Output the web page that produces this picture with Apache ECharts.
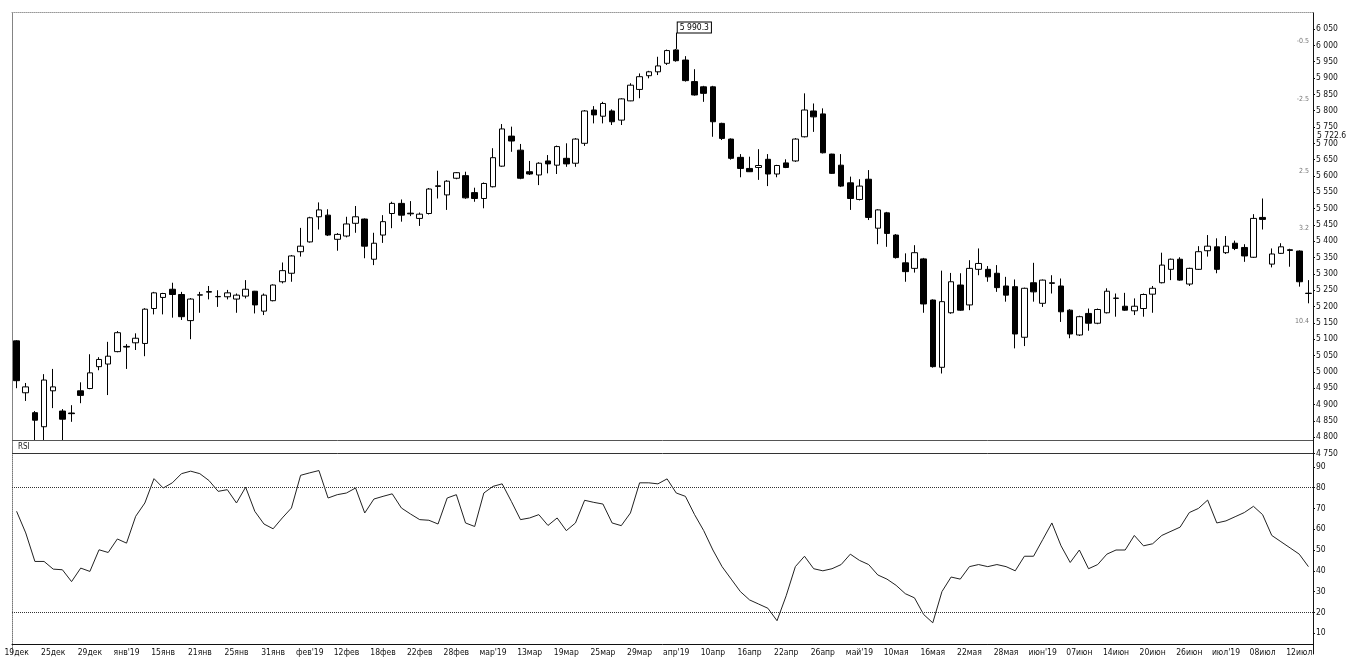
<!DOCTYPE html>
<html><head><meta charset="utf-8">
<script src="https://cdn.jsdelivr.net/npm/echarts@6/dist/echarts.min.js"></script>
<style>html,body{margin:0;padding:0;background:#fff}#c{width:1349px;height:667px}</style>
</head><body><div id="c"></div>
<script>
// x-axis tick labels, one every 4 bars
const tickLabels = ["19дек","25дек","29дек","янв'19","15янв","21янв","25янв","31янв","фев'19","12фев","18фев","22фев",
  "28фев","мар'19","13мар","19мар","25мар","29мар","апр'19","10апр","16апр","22апр","26апр","май'19",
  "10мая","16мая","22мая","28мая","июн'19","07июн","14июн","20июн","26июн","июл'19","08июл","12июл"];
const labelEvery = 4;

const opens = [5095,4936,4875,4832,4942,4880,4874,4942,4949,5016,5024,5062,5078,5089,5087,5194,5228,5253,5237,5157,
  5235,5244,5230,5230,5223,5232,5247,5186,5218,5276,5302,5368,5398,5475,5480,5406,5416,5455,5468,5345,
  5419,5485,5516,5486,5470,5485,5568,5542,5593,5601,5549,5531,5567,5630,5722,5679,5613,5603,5646,5633,
  5654,5639,5700,5802,5783,5799,5771,5830,5865,5907,5919,5945,5986,5955,5889,5873,5873,5761,5713,5657,
  5623,5626,5651,5606,5640,5646,5720,5799,5790,5667,5633,5579,5528,5590,5440,5487,5419,5334,5317,5346,
  5220,5014,5181,5266,5205,5314,5314,5302,5263,5261,5106,5273,5210,5271,5263,5189,5113,5179,5149,5181,
  5225,5201,5187,5194,5238,5273,5314,5345,5269,5314,5371,5383,5365,5394,5381,5351,5473,5330,5363,5374,
  5370,5241];
const closes = [4973,4954,4852,4975,4954,4855,4872,4928,4997,5038,5048,5120,5076,5103,5192,5242,5240,5237,5169,5223,
  5236,5246,5231,5242,5235,5253,5205,5235,5266,5310,5355,5385,5472,5496,5419,5421,5453,5475,5385,5394,
  5460,5516,5480,5484,5483,5560,5570,5584,5610,5533,5531,5577,5656,5744,5707,5593,5606,5639,5637,5690,
  5637,5713,5799,5787,5822,5766,5836,5878,5904,5919,5937,5984,5953,5892,5848,5853,5766,5715,5654,5623,
  5613,5632,5606,5632,5626,5713,5802,5781,5671,5608,5569,5531,5569,5473,5496,5424,5350,5307,5365,5208,
  5016,5215,5276,5189,5317,5332,5291,5258,5235,5116,5256,5245,5281,5273,5184,5116,5169,5149,5191,5247,
  5226,5189,5201,5237,5256,5327,5345,5281,5317,5368,5385,5314,5385,5378,5355,5470,5467,5361,5383,5372,
  5276,5240];
const lows = [4950,4911,4790,4790,4889,4790,4847,4904,4947,5005,4929,5060,5009,5067,5048,5176,5176,5166,5159,5100,
  5181,5222,5199,5222,5181,5225,5179,5174,5216,5271,5276,5353,5396,5436,5416,5371,5412,5426,5348,5327,
  5395,5440,5460,5477,5447,5482,5531,5496,5590,5530,5521,5501,5565,5628,5674,5590,5603,5572,5608,5606,
  5628,5628,5692,5761,5761,5756,5756,5829,5838,5899,5909,5940,5950,5889,5846,5827,5720,5710,5650,5596,
  5612,5588,5569,5596,5624,5643,5718,5735,5669,5606,5566,5496,5525,5465,5391,5383,5347,5276,5304,5181,
  5013,4995,5178,5187,5189,5296,5276,5245,5215,5072,5079,5215,5199,5240,5153,5103,5110,5126,5146,5179,
  5169,5187,5174,5169,5181,5271,5281,5279,5263,5312,5353,5302,5361,5373,5337,5349,5436,5320,5361,5322,
  5261,5210];
const highs = [5097,4966,4880,4993,5009,4886,4898,4968,5054,5045,5092,5125,5085,5118,5195,5245,5242,5273,5245,5226,
  5245,5263,5250,5251,5240,5281,5248,5240,5268,5335,5358,5441,5475,5519,5498,5425,5475,5508,5470,5426,
  5480,5521,5528,5523,5488,5563,5616,5587,5612,5613,5564,5580,5685,5759,5751,5698,5646,5642,5664,5693,
  5700,5716,5802,5814,5827,5804,5838,5884,5914,5922,5965,5987,5989,5967,5927,5876,5876,5763,5715,5667,
  5659,5682,5667,5634,5651,5716,5853,5822,5807,5668,5667,5598,5590,5618,5498,5490,5422,5363,5388,5349,
  5222,5310,5303,5302,5342,5378,5324,5327,5291,5283,5258,5334,5283,5296,5286,5192,5172,5194,5194,5256,
  5240,5242,5225,5240,5263,5365,5347,5351,5319,5385,5419,5409,5416,5402,5391,5483,5531,5378,5394,5377,
  5372,5281];
const rsi = [68.6,58.2,44.5,44.5,40.8,40.5,34.8,41.3,39.7,50.1,48.8,55.3,53.3,66.2,72.6,84.3,79.8,82.3,86.7,87.9,
  86.7,83.4,78.2,79.0,72.6,80.2,68.6,62.5,60.2,65.4,70.2,85.9,87.1,88.2,75.0,76.6,77.4,79.8,67.8,74.5,
  75.8,77.0,70.2,67.3,64.6,64.3,62.5,75.0,76.6,63.0,61.3,77.4,80.6,81.8,73.4,64.6,65.4,67.0,61.8,65.4,
  59.3,63.0,73.9,72.9,72.1,63.0,61.7,67.8,82.3,82.3,81.8,84.2,77.4,75.8,67.0,59.3,50,42,36,30,
  26,24,22,16,28,42,47,41,40,41,43,48,45,43,38,36,33,29,27,19,
  15,30,37,36,42,43,42,43,42,40,47,47,55,63,52,44,50,41,43,48,
  50,50,57,52,53,57,59,61,68,70,74,63,64,66,68,71,67,57,54,51,
  48,42];
const rsiLevels = [80, 20];
const priceMin = 4750, priceMax = 6100, priceStep = 50;
const paneBottomValue = 4790;
const peakText = '5 990.3';
const axisMarker = { value: 5722.6, text: '5 722.6' };
const sideNotes = [ { value: 6010, text: '-0.5' }, { value: 5833, text: '-2.5' }, { value: 5612, text: '2.5' },
  { value: 5440, text: '3.2' }, { value: 5153, text: '10.4' } ];

const FONT = '"Liberation Sans Narrow","DejaVu Sans Condensed","Arial Narrow","Liberation Sans",sans-serif';
const categories = opens.map((_, i) => String(i));
const ohlc = opens.map((o, i) => [o, closes[i], lows[i], highs[i]]);
let peakIdx = 0;
highs.forEach((h, i) => { if (h > highs[peakIdx]) peakIdx = i; });
const fmt = v => String(Math.round(v)).replace(/\B(?=(\d{3})+(?!\d))/g, ' ');

const chart = echarts.init(document.getElementById('c'), null, { renderer: 'canvas' });
chart.setOption({
  animation: false,
  backgroundColor: '#fff',
  textStyle: { fontFamily: FONT },
  grid: [
    { left: 12, right: 36, top: 12.7, height: 440.8 },
    { left: 12, right: 36, top: 446, height: 208 }
  ],
  xAxis: [
    { type: 'category', gridIndex: 0, data: categories, boundaryGap: true, position: 'top',
      axisLine: { show: true, lineStyle: { color: '#999', width: 1, type: 'dotted' } },
      axisTick: { show: false }, axisLabel: { show: false }, splitLine: { show: false } },
    { type: 'category', gridIndex: 1, data: categories, boundaryGap: true, position: 'bottom', offset: -10,
      axisLine: { lineStyle: { color: '#111', width: 1 } }, axisTick: { show: false }, splitLine: { show: false },
      axisLabel: { interval: labelEvery - 1, color: '#111', fontSize: 8.5, margin: 4, fontFamily: FONT,
        formatter: (v, idx) => tickLabels[Math.round(idx / labelEvery)] || '' } }
  ],
  yAxis: [
    { type: 'value', gridIndex: 0, position: 'right', min: priceMin, max: priceMax, interval: priceStep,
      axisLine: { show: true, lineStyle: { color: '#111', width: 1 } },
      axisTick: { show: true, length: 2, lineStyle: { color: '#111' } }, splitLine: { show: false },
      axisLabel: { color: '#111', fontSize: 8.5, margin: 3, fontFamily: FONT, showMaxLabel: false, formatter: fmt } },
    { type: 'value', gridIndex: 1, position: 'right', min: 0, max: 100, interval: 10,
      axisLine: { show: true, lineStyle: { color: '#111', width: 1 } },
      axisTick: { show: true, length: 2, lineStyle: { color: '#111' } }, splitLine: { show: false },
      axisLabel: { color: '#111', fontSize: 8.5, margin: 3, fontFamily: FONT, showMinLabel: false, showMaxLabel: false } },
    { type: 'value', gridIndex: 1, position: 'left', min: 0, max: 100,
      axisLine: { show: true, lineStyle: { color: '#777', width: 1, type: 'dotted' } },
      axisTick: { show: false }, axisLabel: { show: false }, splitLine: { show: false } },
    { type: 'value', gridIndex: 0, position: 'left', min: priceMin, max: priceMax,
      axisLine: { show: true, lineStyle: { color: '#777', width: 1, type: 'dotted' } },
      axisTick: { show: false }, axisLabel: { show: false }, splitLine: { show: false } }
  ],
  series: [
    { type: 'candlestick', xAxisIndex: 0, yAxisIndex: 0, data: ohlc, barWidth: 6,
      itemStyle: { color: '#fff', color0: '#000', borderColor: '#000', borderColor0: '#000', borderWidth: 1 },
      markLine: { silent: true, symbol: 'none', animation: false,
        data: [
          { yAxis: paneBottomValue, lineStyle: { color: '#555', width: 1, type: 'solid' }, label: { show: false } },
          { yAxis: priceMin, lineStyle: { color: '#333', width: 1, type: 'solid' }, label: { show: false } },
          [ { coord: [peakIdx, highs[peakIdx]] }, { coord: [peakIdx, highs[peakIdx] + 50] } ]
        ],
        lineStyle: { color: '#000', width: 1, type: 'solid' }, label: { show: false } },
      markPoint: { silent: true, animation: false,
        data: [ { coord: [peakIdx, highs[peakIdx] + 50], symbol: 'rect', symbolSize: 1,
          itemStyle: { color: 'rgba(0,0,0,0)' },
          label: { show: true, position: 'right', distance: 1, offset: [0, -5], formatter: peakText,
            color: '#000', fontSize: 8.5, fontFamily: FONT, backgroundColor: '#fff', borderColor: '#000', borderWidth: 1,
            padding: [1, 2, 0, 2] } } ] }
    },
    { type: 'line', xAxisIndex: 1, yAxisIndex: 1, data: rsi, symbol: 'none', showSymbol: false,
      lineStyle: { color: '#222', width: 1 },
      markLine: { silent: true, symbol: 'none', animation: false,
        data: rsiLevels.map(v => ({ yAxis: v })),
        lineStyle: { color: '#333', width: 1, type: 'dotted' }, label: { show: false } } }
  ]
});

// Text annotations placed through the axis scale
const gx = 1313;
const graphics = [];
graphics.push({ type: 'text', left: 18, top: 443, style: { text: 'RSI', fill: '#222', font: '8px ' + FONT } });
const my = chart.convertToPixel({ yAxisIndex: 0 }, axisMarker.value);
graphics.push({ type: 'text', x: gx + 4, y: my - 5, style: { text: axisMarker.text, fill: '#111', font: '8.5px ' + FONT } });
sideNotes.forEach(n => {
  const y = chart.convertToPixel({ yAxisIndex: 0 }, n.value);
  graphics.push({ type: 'text', x: gx - 4, y: y - 4, style: { text: n.text, fill: '#777', font: '7px ' + FONT, textAlign: 'right' } });
});
chart.setOption({ graphic: graphics });
</script>
</body></html>
